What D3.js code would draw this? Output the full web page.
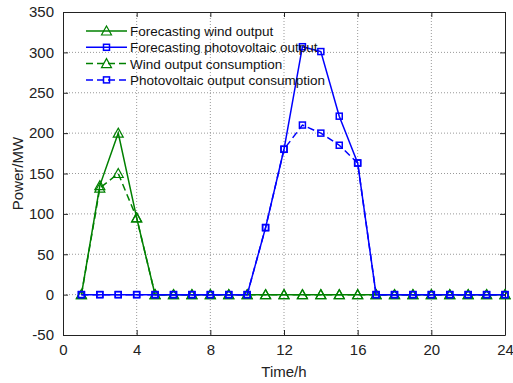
<!DOCTYPE html>
<html>
<head>
<meta charset="utf-8">
<script src="https://cdn.jsdelivr.net/npm/d3@7"></script>
<style>
body { margin: 0; background: #fff; }
svg { font-family: "Liberation Sans", Arial, sans-serif; }
</style>
</head>
<body>
<div id="chart"></div>
<script>
const hours = d3.range(1, 25);
const windForecast = [0, 135, 200, 95, 0, 0, 0, 0, 0, 0, 0, 0, 0, 0, 0, 0, 0, 0, 0, 0, 0, 0, 0, 0];
const windConsumption = [0, 132, 150, 95, 0, 0, 0, 0, 0, 0, 0, 0, 0, 0, 0, 0, 0, 0, 0, 0, 0, 0, 0, 0];
const pvForecast = [0, 0, 0, 0, 0, 0, 0, 0, 0, 0, 83, 180, 307, 301, 221, 163, 0, 0, 0, 0, 0, 0, 0, 0];
const pvConsumption = [0, 0, 0, 0, 0, 0, 0, 0, 0, 0, 83, 180, 210, 200, 185, 163, 0, 0, 0, 0, 0, 0, 0, 0];
const xTicks = [0, 4, 8, 12, 16, 20, 24];
const yTicks = [-50, 0, 50, 100, 150, 200, 250, 300, 350];

const series = [
    {name: "Forecasting wind output", values: windForecast, color: "#008000", dash: null, marker: "tri"},
    {name: "Forecasting photovoltaic output", values: pvForecast, color: "#0000ff", dash: null, marker: "sq"},
    {name: "Wind output consumption", values: windConsumption, color: "#008000", dash: "7,4", marker: "tri"},
    {name: "Photovoltaic output consumption", values: pvConsumption, color: "#0000ff", dash: "7,4", marker: "sq"}
];

const width = 513, height = 383;
const margin = {top: 12, right: 8, bottom: 48, left: 63};
const w = width - margin.left - margin.right;
const h = height - margin.top - margin.bottom;

const svg = d3.select("#chart").append("svg")
    .attr("width", width)
    .attr("height", height);
const g = svg.append("g").attr("transform", "translate(" + margin.left + "," + margin.top + ")");

const x = d3.scaleLinear().domain([0, 24]).range([0, w]);
const y = d3.scaleLinear().domain([-50, 350]).range([h, 0]);

// grid
g.append("g").selectAll("line").data(xTicks.slice(1, -1)).enter().append("line")
    .attr("x1", d => x(d)).attr("x2", d => x(d)).attr("y1", 0).attr("y2", h)
    .attr("stroke", "#999").attr("stroke-dasharray", "1,2");
g.append("g").selectAll("line").data(yTicks.slice(1, -1)).enter().append("line")
    .attr("y1", d => y(d)).attr("y2", d => y(d)).attr("x1", 0).attr("x2", w)
    .attr("stroke", "#999").attr("stroke-dasharray", "1,2");

// axes (plain hyphen for negatives, like the original)
const fmt = d => String(d);
g.append("g").attr("transform", "translate(0," + h + ")")
    .call(d3.axisBottom(x).tickValues(xTicks).tickSizeInner(-5).tickSizeOuter(0).tickPadding(9).tickFormat(fmt));
g.append("g")
    .call(d3.axisTop(x).tickValues(xTicks).tickSizeInner(-5).tickSizeOuter(0).tickFormat(""));
g.append("g")
    .call(d3.axisLeft(y).tickValues(yTicks).tickSizeInner(-5).tickSizeOuter(0).tickPadding(9).tickFormat(fmt));
g.append("g").attr("transform", "translate(" + w + ",0)")
    .call(d3.axisRight(y).tickValues(yTicks).tickSizeInner(-5).tickSizeOuter(0).tickFormat(""));
g.selectAll(".domain").attr("stroke", "#222");
g.selectAll(".tick line").attr("stroke", "#222");
g.selectAll(".tick text").attr("font-size", 15).attr("fill", "#222").attr("font-family", "Liberation Sans, Arial, sans-serif");

// lines
const line = d3.line().x((d, i) => x(hours[i])).y(d => y(d));

function drawMarker(sel, kind, color) {
    if (kind === "tri") {
        sel.append("path").attr("d", "M0,-5L5,4L-5,4Z")
            .attr("fill", "none").attr("stroke", color).attr("stroke-width", 1.2);
    } else {
        sel.append("rect").attr("x", -3).attr("y", -3).attr("width", 6).attr("height", 6)
            .attr("fill", "none").attr("stroke", color).attr("stroke-width", 1.5);
    }
}

// draw wind first then pv so blue lies on top at zero
const order = [2, 0, 3, 1];
order.forEach(k => {
    const s = series[k];
    g.append("path").datum(s.values)
        .attr("d", line)
        .attr("fill", "none")
        .attr("stroke", s.color)
        .attr("stroke-width", 1.5)
        .attr("stroke-dasharray", s.dash);
    g.append("g").selectAll("g").data(s.values).enter().append("g")
        .attr("transform", (d, i) => "translate(" + x(hours[i]) + "," + y(d) + ")")
        .each(function () { drawMarker(d3.select(this), s.marker, s.color); });
});

// legend
const legend = g.append("g").attr("transform", "translate(23,19)");
series.forEach((s, i) => {
    const row = legend.append("g").attr("transform", "translate(0," + (i * 16.3) + ")");
    row.append("line").attr("x1", 0).attr("x2", 41).attr("y1", 0).attr("y2", 0)
        .attr("stroke", s.color).attr("stroke-width", 1.5).attr("stroke-dasharray", s.dash);
    drawMarker(row.append("g").attr("transform", "translate(20.5,0)"), s.marker, s.color);
    row.append("text").attr("x", 44).attr("y", 5).attr("font-size", 13.5).attr("fill", "#111").text(s.name);
});

// axis labels
svg.append("text").attr("x", margin.left + w / 2).attr("y", 377)
    .attr("text-anchor", "middle").attr("font-size", 15).attr("fill", "#222").text("Time/h");
svg.append("text").attr("transform", "translate(23," + (margin.top + h / 2) + ") rotate(-90)")
    .attr("text-anchor", "middle").attr("font-size", 15).attr("fill", "#222").text("Power/MW");
</script>
</body>
</html>
